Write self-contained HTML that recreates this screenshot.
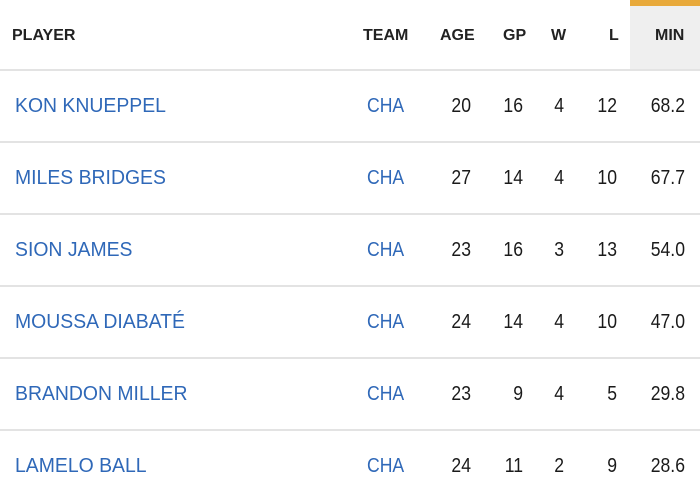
<!DOCTYPE html>
<html><head><style>
body{margin:0;width:700px;height:498px;background:#fff;overflow:hidden;position:relative;font-family:"Liberation Sans",Arial,sans-serif;}
.h{position:absolute;top:27px;font-size:16px;font-weight:bold;color:#222;}
.line{position:absolute;left:0;width:700px;height:2px;background:#e3e3e3;}
.c{position:absolute;font-size:20px;color:#1a1a1a;white-space:nowrap;}
.p{color:#2f68b8;left:15px;transform-origin:left;transform:scaleX(0.97);}
.t{color:#2f68b8;left:367px;transform-origin:left;transform:scaleX(0.88);}
.r{text-align:right;transform-origin:right;transform:scaleX(0.88);}
</style></head><body>
<div style="position:absolute;left:630px;top:0;width:70px;height:69px;background:#efefef"></div>
<div style="position:absolute;left:630px;top:0;width:70px;height:6px;background:#e8a93a"></div>
<div class="h" style="left:12px">PLAYER</div>
<div class="h" style="left:363px">TEAM</div>
<div class="h" style="left:440px">AGE</div>
<div class="h" style="left:503px">GP</div>
<div class="h" style="left:551px">W</div>
<div class="h" style="left:609px">L</div>
<div class="h" style="left:655px">MIN</div>
<div id="rows"></div>
<script>
var d=[["KON KNUEPPEL",20,16,4,12,"68.2"],["MILES BRIDGES",27,14,4,10,"67.7"],["SION JAMES",23,16,3,13,"54.0"],["MOUSSA DIABATÉ",24,14,4,10,"47.0"],["BRANDON MILLER",23,9,4,5,"29.8"],["LAMELO BALL",24,11,2,9,"28.6"]];
var rights=[471,523,564,617,685];var h="";
d.forEach(function(r,i){var y=69+i*72;h+='<div class="line" style="top:'+y+'px"></div>';var ty=y+26;
h+='<div class="c p" style="top:'+ty+'px">'+r[0]+'</div><div class="c t" style="top:'+ty+'px">CHA</div>';
for(var k=1;k<6;k++)h+='<div class="c r" style="top:'+ty+'px;left:'+(rights[k-1]-60)+'px;width:60px">'+r[k]+'</div>';});
document.getElementById("rows").innerHTML=h;
</script>
</body></html>
